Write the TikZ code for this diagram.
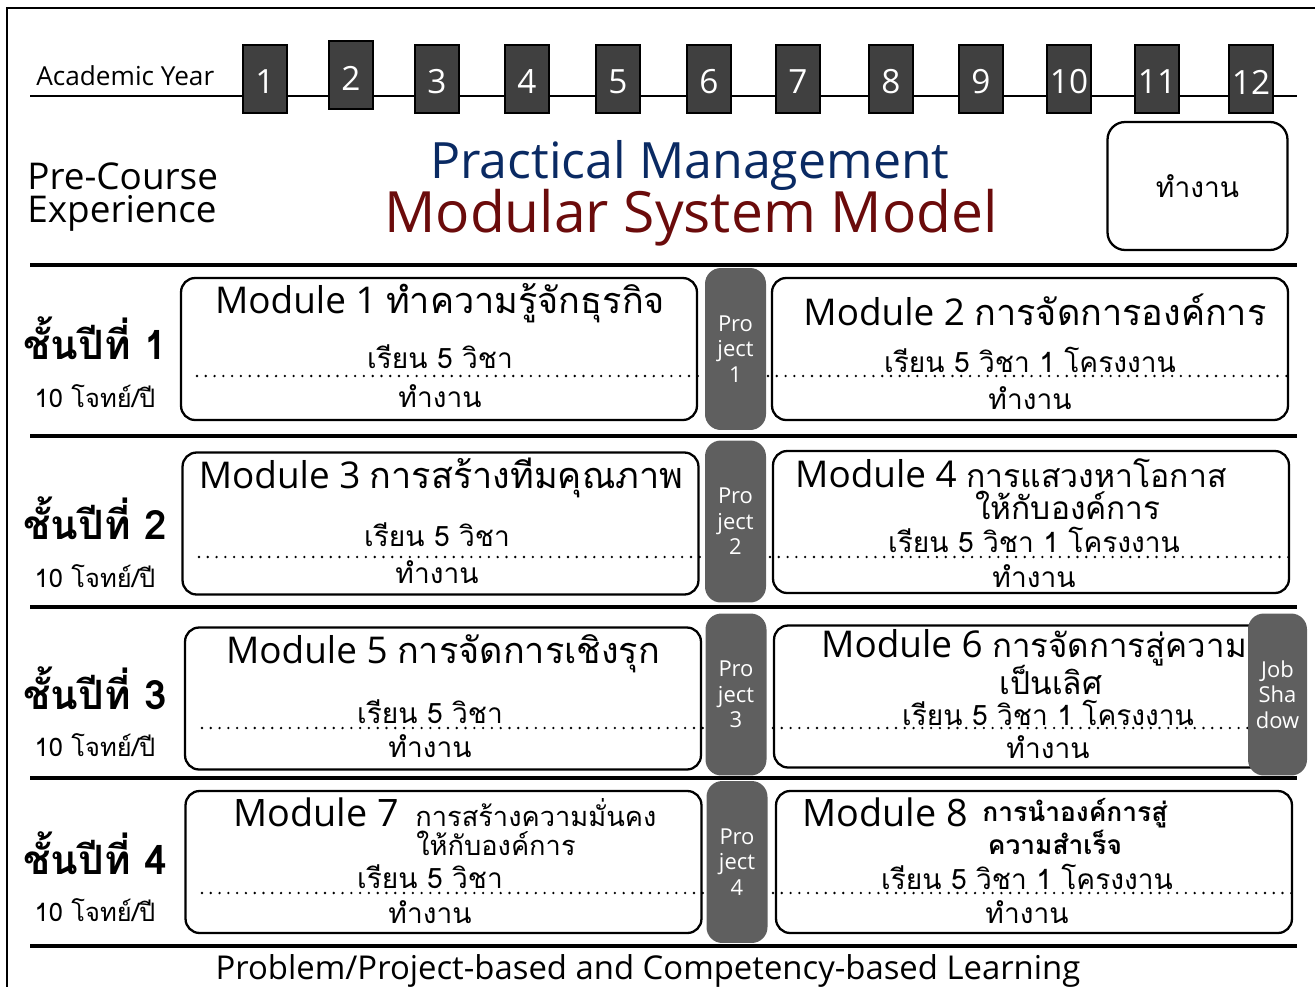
\documentclass[tikz,border=0pt]{standalone}
\usepackage{fontspec}
\setmainfont{Open Sans}
\newfontfamily\thaifont[Script=Thai]{Loma}
\usetikzlibrary{positioning}
\definecolor{yeargray}{HTML}{404040}
\definecolor{pillgray}{HTML}{5F5F5F}
\definecolor{titleblue}{HTML}{0A2A63}
\definecolor{titlered}{HTML}{6B0B0B}
\newcommand{\thaitxt}[2]{{\thaifont\fontsize{#1}{#1}\selectfont #2}}

\begin{document}
\begin{tikzpicture}[x=0.02cm, y=-0.02cm]
\tikzset{
	    yearbox/.style={rectangle, draw=black, fill=yeargray, line width=1pt, minimum width=0.88cm, minimum height=1.36cm, inner sep=0pt},
	    yearnum/.style={text=white, font=\fontsize{19}{19}\selectfont},
	    modbox/.style={rectangle, draw=black, line width=1.3pt, rounded corners=8pt, minimum width=10.32cm, minimum height=2.84cm},
	    projpill/.style={rectangle, fill=pillgray, rounded corners=9pt, minimum width=1.22cm, minimum height=3.24cm, text=white, align=center, inner sep=0pt, font=\fontsize{12.5}{14.5}\selectfont},
	    modtitle/.style={font=\fontsize{21}{24}\selectfont, inner sep=0pt},
	    modline/.style={font=\thaifont\fontsize{16}{18}\selectfont, inner sep=0pt},
	    yearlabel/.style={font=\thaifont\bfseries\fontsize{23}{26}\selectfont, inner sep=0pt},
	    tasklabel/.style={font=\thaifont\fontsize{14.5}{16}\selectfont, inner sep=0pt},
	    sepline/.style={line width=2.3pt},
	    dotline/.style={line width=1.5pt, line cap=round, dash pattern=on 0pt off 5pt}
	}
	\useasboundingbox (0,0) rectangle (1315,987);
	% frame
	\draw[line width=0.6pt] (7,987) -- (7,8) -- (1315,8);

	% academic year timeline
	\node[anchor=west, inner sep=0pt, font=\fontsize{14.9}{16}\selectfont] (acyear) at (36,76) {Academic Year};
	\draw[line width=1.7pt] (30,96) -- (1297,96);
	\foreach \n/\x/\y in {1/265/79, 2/351/75, 3/437/79, 4/527/79, 5/618/79, 6/709/79, 7/798/79, 8/891/79, 9/981/79, 10/1069/79, 11/1157/79, 12/1251/79}{
	    \node[yearbox] (y\n) at (\x,\y) {};
	    \node[yearnum] at ([yshift=-0.06cm]y\n.center) {\n};
	}

	% heading
	\node[inner sep=0pt, font=\fontsize{21}{21}\selectfont, anchor=west] (precourse) at (27,176) {Pre-Course};
	\node[inner sep=0pt, font=\fontsize{21}{21}\selectfont, anchor=west] (experience) at (27,213) {Experience};
	\node[inner sep=0pt, text=titleblue, font=\fontsize{28.5}{30}\selectfont] (practical) at (690,165) {Practical Management};
	\node[inner sep=0pt, text=titlered, font=\fontsize{32.4}{36}\selectfont] (modular) at (691,218) {Modular System Model};
	\node[modbox, rounded corners=10pt, minimum width=3.6cm, minimum height=2.56cm, font=\thaifont\fontsize{16}{18}\selectfont] (prework) at (1197.5,186) {ทำงาน};

	% rows
	\foreach \y in {265,436,607,778,946}{
	    \draw[sepline] (30,\y) -- (1297,\y);
	}
	\foreach \n/\a/\b in {1/338/396, 2/518/576, 3/688/745, 4/853/910}{
	    \node[yearlabel] (class\n) at (95,\a) {ชั้นปีที่ \n};
	    \node[tasklabel] (task\n) at (95,\b) {10 โจทย์/ปี};
	}

	\node[modbox] (m1) at (439,349) {};
	\node[modbox] (m2) at (1030,349) {};
	\node[modbox] (m3) at (440.5,523.5) {};
	\node[modbox] (m4) at (1031,522) {};
	\node[modbox] (m5) at (443,698.5) {};
	\node[modbox] (m6) at (1032,696.5) {};
	\node[modbox] (m7) at (443.5,862) {};
	\node[modbox] (m8) at (1034,862) {};

	\draw[dotline] (197,376) -- (1290,376);
	\draw[dotline] (199,557) -- (1290,557);
	\draw[dotline] (202,728) -- (1290,728);
	\draw[dotline] (202,893) -- (1292,893);

	\node[projpill] (p1) at (735.5,349) {Pro\\ject\\1};
	\node[projpill] (p2) at (735.5,521.5) {Pro\\ject\\2};
	\node[projpill] (p3) at (736,694.5) {Pro\\ject\\3};
	\node[projpill] (p4) at (737,862) {Pro\\ject\\4};
	\node[projpill, minimum width=1.18cm] (jobshadow) at (1277.5,694.5) {Job\\Sha\\dow};

	% module texts
	\node[modtitle] at (440,303) {Module 1 \thaitxt{20.5}{ทำความรู้จักธุรกิจ}};
	\node[modline] at (440,357) {เรียน 5 วิชา};
	\node[modline] at (440,396) {ทำงาน};
	\node[modtitle] at (1035,310) {Module 2 \thaitxt{20.5}{การจัดการองค์การ}};
	\node[modline] at (1030,360) {เรียน 5 วิชา 1 โครงงาน};
	\node[modline] at (1030,398) {ทำงาน};

	\node[modtitle] at (441,478) {Module 3 \thaitxt{20.5}{การสร้างทีมคุณภาพ}};
	\node[modline] at (437,535) {เรียน 5 วิชา};
	\node[modline] at (437,572) {ทำงาน};
	\node[modtitle] at (1011,473) {Module 4 \thaitxt{18.2}{การแสวงหาโอกาส}};
	\node[modline, font=\thaifont\fontsize{18}{18}\selectfont] at (1068,505) {ให้กับองค์การ};
	\node[modline] at (1034,540) {เรียน 5 วิชา 1 โครงงาน};
	\node[modline] at (1034,576) {ทำงาน};

	\node[modtitle] at (443,654) {Module 5 \thaitxt{20.5}{การจัดการเชิงรุก}};
	\node[modline] at (430,712) {เรียน 5 วิชา};
	\node[modline] at (430,746) {ทำงาน};
	\node[modtitle] at (1034,648) {Module 6 \thaitxt{18.8}{การจัดการสู่ความ}};
	\node[modline, font=\thaifont\fontsize{18}{18}\selectfont] at (1051,680) {เป็นเลิศ};
	\node[modline] at (1048,713) {เรียน 5 วิชา 1 โครงงาน};
	\node[modline] at (1048,747) {ทำงาน};

	\node[modtitle, font=\fontsize{21.5}{24}\selectfont, anchor=west] (t7) at (233,812) {Module 7};
	\node[modline, font=\thaifont\fontsize{15.5}{16}\selectfont, anchor=west] at (415,813) {การสร้างความมั่นคง};
	\node[modline, font=\thaifont\fontsize{15.5}{16}\selectfont] at (496,843) {ให้กับองค์การ};
	\node[modline] at (430,877) {เรียน 5 วิชา};
	\node[modline] at (430,912) {ทำงาน};
	\node[modtitle, font=\fontsize{21.5}{24}\selectfont, anchor=west] (t8) at (802,812) {Module 8};
	\node[modline, font=\thaifont\bfseries\fontsize{15}{16}\selectfont, anchor=west] at (982,813) {การนำองค์การสู่};
	\node[modline, font=\thaifont\bfseries\fontsize{15}{16}\selectfont] at (1055,842) {ความสำเร็จ};
	\node[modline] at (1027,877) {เรียน 5 วิชา 1 โครงงาน};
	\node[modline] at (1027,912) {ทำงาน};

	% bottom caption
	\node[inner sep=0pt, font=\fontsize{18.7}{20}\selectfont] (caption) at (648,971) {Problem/Project-based and Competency-based Learning};
\end{tikzpicture}
\end{document}
